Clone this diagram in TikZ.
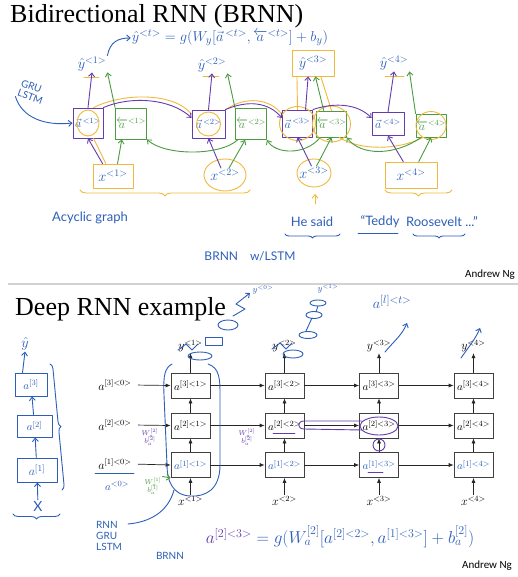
\documentclass[tikz,border=0pt]{standalone}
\usepackage{fontspec}
\usepackage{amsmath}
\setmainfont{Liberation Serif}
\newfontfamily\titlefont{Liberation Serif}
\newfontfamily\handfont{Lato}
\newfontfamily\ngfont{Carlito}
\usetikzlibrary{arrows.meta,decorations.pathreplacing}
\definecolor{hblue}{RGB}{45,95,185}
\definecolor{hpurple}{RGB}{100,60,175}
\definecolor{hgreen}{RGB}{75,155,65}
\definecolor{hyellow}{RGB}{240,185,60}
\begin{document}
\begin{tikzpicture}[x=1pt,y=-1pt,
  title/.style={anchor=base west,inner sep=0,font=\titlefont\fontsize{26}{28}\selectfont},
  ng/.style={anchor=base east,inner sep=0,font=\ngfont\fontsize{11}{12}\selectfont},
  hw/.style={inner sep=1pt,text=hblue,font=\handfont\fontsize{#1}{#1}\selectfont},
  hw/.default=12,
  hm/.style={inner sep=1pt,font=\fontsize{#1}{#1}\selectfont},
  hm/.default=12,
  hl/.style={line width=0.9pt,line cap=round,line join=round},
  harr/.style={hl,-{Straight Barb[length=3.5pt,width=6pt]}},
  abox/.style={draw=hpurple,hl,inner sep=0,text=hblue,font=\fontsize{12}{12}\selectfont},
  bbox/.style={draw=hgreen,hl,inner sep=0,text=hgreen,font=\fontsize{12}{12}\selectfont},
  pbox/.style={draw=black!75,line width=0.7pt,minimum width=39pt,minimum height=25pt,inner sep=0,fill=white,font=\fontsize{11}{12}\selectfont},
  parr/.style={line width=0.7pt,black!85,-{Latex[length=5pt,width=4pt]}},
  plab/.style={inner sep=1pt,font=\fontsize{12}{13}\selectfont},
  brc/.style={hl,decorate,decoration={brace,amplitude=#1}},
  brc/.default=6pt,
]
\useasboundingbox (0,0) rectangle (518,577);
\fill[white] (0,0) rectangle (518,577);

% ================= TOP: Bidirectional RNN =================
\node[title] (t1) at (10,23) {Bidirectional RNN (BRNN)};
\node[ng] (ng1) at (515,277) {Andrew Ng};
\draw[gray!35,line width=2pt] (8,284) -- (518,284);

\node[hm=15,text=hblue] (eq1) at (230,38) {$\hat{y}^{<t>}=g(W_y[\vec{a}^{\,<t>},\overleftarrow{a}^{<t>}]+b_y)$};

\node[hm=14,text=hblue] (y1) at (92,64) {$\hat{y}^{<1>}$};
\node[hm=14,text=hblue] (y2) at (212,65) {$\hat{y}^{<2>}$};
\node[hm=14,text=hblue,draw=hyellow,hl,minimum width=42pt,minimum height=26pt] (y3) at (313,63) {$\hat{y}^{<3>}$};
\node[hm=14,text=hblue] (y4) at (394,63) {$\hat{y}^{<4>}$};
\draw[hyellow,hl] (84,77) -- (99,77) (203,76) -- (219,76) (385,76) -- (404,76);
\draw[harr,hblue] (y1.north east) .. controls (110,42) and (118,38) .. (eq1.west);

\node[hw=10,rotate=-20,align=left] (gru) at (32,92) {GRU\\LSTM};

% forward (purple) and backward (green) units
\node[abox,minimum width=30pt,minimum height=30pt] (A1) at (88,123) {$\vec{a}^{\,<1>}$};
\node[bbox,minimum width=31pt,minimum height=31pt] (B1) at (131,123.5) {$\overleftarrow{a}^{<1>}$};
\node[abox,minimum width=33pt,minimum height=28pt] (A2) at (208.5,124) {$\vec{a}^{\,<2>}$};
\node[bbox,minimum width=31pt,minimum height=31pt] (B2) at (251,124) {$\overleftarrow{a}^{<2>}$};
\node[abox,minimum width=30pt,minimum height=27pt] (A3) at (297.5,123.5) {$\vec{a}^{\,<3>}$};
\node[bbox,minimum width=29pt,minimum height=26pt] (B3) at (331.5,124) {$\overleftarrow{a}^{<3>}$};
\node[abox,minimum width=32pt,minimum height=23pt] (A4) at (388,124) {$\vec{a}^{\,<4>}$};
\node[bbox,minimum width=28pt,minimum height=23pt] (B4) at (431,125.5) {$\overleftarrow{a}^{<4>}$};
\draw[harr,hblue] (gru.south west) .. controls (22,118) and (45,126) .. (A1.west);

% yellow highlights
\draw[hyellow,hl] (A1) ellipse [x radius=11pt,y radius=13pt];
\draw[hyellow,hl] (A2) ellipse [x radius=12pt,y radius=12pt];
\draw[hyellow,hl] (A3) ellipse [x radius=18pt,y radius=17pt];
\draw[hyellow,hl] (B3) ellipse [x radius=19pt,y radius=18pt];
\draw[hyellow,hl] (B4) ellipse [x radius=15pt,y radius=14pt];
\draw[hyellow,hl] (A1.70) .. controls (125,92) and (175,93) .. (A2.150);
\draw[hyellow,hl] (A2.40) .. controls (245,96) and (270,98) .. (A3.150);
\draw[hyellow,hl] (A3.north) -- (y3.220) (B3.north) -- (y3.300);
\draw[hyellow,hl] (B4.235) .. controls (400,150) and (360,151) .. (B3.300);

% inputs
\node[hm=14,text=hblue,draw=hyellow,hl,minimum width=40pt,minimum height=24pt] (TX1) at (113,176) {$x^{<1>}$};
\node[hm=14,text=hblue] (TX2) at (225,175) {$x^{<2>}$};
\draw[hyellow,hl] (TX2) ellipse [x radius=21pt,y radius=16pt];
\node[hm=14,text=hblue] (TX3) at (314,173) {$x^{<3>}$};
\draw[hyellow,hl] (TX3) ellipse [x radius=17pt,y radius=14pt];
\node[hm=14,text=hblue,draw=hyellow,hl,minimum width=52pt,minimum height=26pt] (TX4) at (411,175) {$x^{<4>}$};
\draw[brc,hyellow] (250,190) -- (80,190);
\draw[brc,hyellow] (452,190) -- (385,190);

% input connections
\draw[harr,hpurple] (TX1.130) -- (A1.south);
\draw[hyellow,hl] (TX1.120) -- (A1.290);
\draw[harr,hgreen] (TX1.70) -- (B1.240);
\draw[harr,hpurple] (TX2.120) -- (A2.south);
\draw[harr,hgreen] (TX2.60) -- (B2.250);
\draw[harr,hpurple] (TX3.110) -- (A3.south);
\draw[harr,hgreen] (TX3.70) -- (B3.south);
\draw[harr,hpurple] (TX4.120) -- (A4.south);
\draw[harr,hgreen] (TX4.60) -- (B4.south);

% outputs
\draw[harr,hpurple] (A1.north) -- (y1.south);
\draw[harr,hgreen] (B1.north west) -- (y1.south east);
\draw[harr,hpurple] (A2.north) -- (y2.south);
\draw[harr,hgreen] (B2.north west) -- (y2.south east);
\draw[harr,hpurple] (A3.60) -- (y3.250);
\draw[harr,hgreen] (B3.120) -- (y3.280);
\draw[harr,hpurple] (A4.north) -- (y4.south);
\draw[harr,hgreen] (B4.north west) -- (y4.south east);

% forward recurrence
\draw[harr,hpurple] (A1.north east) .. controls (130,96) and (170,98) .. (A2.160);
\draw[harr,hpurple] (A2.north east) .. controls (248,100) and (268,102) .. (A3.160);
\draw[harr,hpurple] (A3.north east) .. controls (335,102) and (358,104) .. (A4.160);
% backward recurrence
\draw[harr,hgreen] (B2.230) .. controls (220,156) and (165,156) .. (B1.south east);
\draw[harr,hgreen] (B3.230) .. controls (305,156) and (275,154) .. (B2.south east);
\draw[harr,hgreen] (B4.230) .. controls (395,156) and (360,156) .. (B3.south east);

% texts
\node[hw=13] (acy) at (90,218) {Acyclic graph};
\node[hw=13] (he) at (312,222) {He said};
\node[hw=13] (ted) at (380,222) {“Teddy};
\node[hw=13] (roo) at (442,222) {Roosevelt ...”};
\draw[brc=4pt,hblue] (340,234) -- (285,234);
\draw[hblue,hl] (358,233) -- (398,233);
\draw[brc=4pt,hblue] (465,234) -- (413,234);
\draw[harr,hyellow] (315,204) -- (315,194);
\node[hw=12] (brnn) at (250,256) {BRNN\quad w/LSTM};

% ================= BOTTOM: Deep RNN example =================
\node[title] (t2) at (15,315) {Deep RNN example};
\node[ng] (ng2) at (512,568) {Andrew Ng};

\foreach \c/\x in {1/190.5,2/284.5,3/379,4/473.5}{
  \node[pbox] (L3\c) at (\x,385.5) {$a^{[3]<\c>}$};
  \node[pbox] (L2\c) at (\x,425.5) {$a^{[2]<\c>}$};
  \node[pbox,text=hblue] (L1\c) at (\x,465) {$a^{[1]<\c>}$};
  \node[plab] (dy\c) at (\x,346) {$y^{<\c>}$};
  \node[plab] (dx\c) at (\x,501) {$x^{<\c>}$};
  \draw[parr] (dx\c) -- (L1\c);
  \draw[parr] (L1\c) -- (L2\c);
  \draw[parr] (L2\c) -- (L3\c);
  \draw[parr] (L3\c) -- (dy\c);
}
\foreach \c/\n in {1/2,2/3,3/4}{
  \foreach \r in {1,2,3}{
    \draw[parr] (L\r\c) -- (L\r\n);
  }
}
\node[plab] (i3) at (115,385) {$a^{[3]<0>}$};
\node[plab] (i2) at (115,425) {$a^{[2]<0>}$};
\node[plab] (i1) at (115,464) {$a^{[1]<0>}$};
\draw[parr,shorten <=5pt] (i3.east) -- (L31.west);
\draw[parr,shorten <=5pt] (i2.east) -- (L21.west);
\draw[parr,shorten <=5pt] (i1.east) -- (L11.west);
\draw[hblue,hl] (95,473) -- (134,473);
\node[hm=11,text=hblue] (a0) at (117,486) {$a^{<0>}$};

% left stack sketch
\node[draw=hblue,hl,minimum width=32pt,minimum height=23pt,inner sep=0,hm=11,text=hblue] (S3) at (31,384.5) {$a^{[3]}$};
\node[draw=hblue,hl,minimum width=35pt,minimum height=22pt,inner sep=0,hm=11,text=hblue] (S2) at (34.5,426) {$a^{[2]}$};
\node[draw=hblue,hl,minimum width=40pt,minimum height=24pt,inner sep=0,hm=13,text=hblue] (S1) at (37,470) {$a^{[1]}$};
\node[hw=14] (SX) at (38,506) {X};
\node[hm=14,text=hblue] (SY) at (25,344) {$\hat{y}$};
\draw[harr,hblue] (SX) -- (S1);
\draw[harr,hblue] (S1) -- (S2);
\draw[harr,hblue] (S2) -- (S3);
\draw[harr,hblue] (S3.north west) ++(8,0) -- (SY.south);
\draw[brc=5pt,hblue] (60,514) -- (13,514);
\draw[brc=5pt,hblue] (50,364) -- (62,490);

% loop around first column
\draw[hblue,hl] (208,364) .. controls (220,368) and (220,380) .. (220,395) -- (220,465)
  .. controls (220,490) and (205,497) .. (190,496) .. controls (172,495) and (167,480) .. (167,465)
  -- (164,395) .. controls (163,375) and (165,368) .. (172,364);
\draw[hblue,hl] (128,524) .. controls (150,522) and (168,512) .. (174,490);

% scribbles above y's
\draw[hblue,hl] (200,356) ellipse [x radius=12pt,y radius=4pt];
\draw[hblue,hl] (178,350) -- (186,344) -- (192,350) -- (198,344);
\draw[hblue,hl] (205,337) rectangle (222,345);
\draw[hblue,hl] (228,325) ellipse [x radius=10pt,y radius=5pt];
\draw[harr,hblue] (233,316) -- (245,309) -- (236,304) -- (250,293);
\node[hm=9,text=hblue] (yz) at (263,290) {$y^{<0>}$};
\draw[hblue,hl] (293,354) ellipse [x radius=10pt,y radius=4pt];
\draw[hblue,hl] (272,349) -- (280,343) -- (286,349) -- (292,343);
\draw[hblue,hl] (308,335) ellipse [x radius=9pt,y radius=3.5pt];
\draw[hblue,hl] (314,315) ellipse [x radius=8pt,y radius=3.5pt];
\draw[hblue,hl] (318,303) ellipse [x radius=8pt,y radius=3pt];
\draw[hblue,hl] (306,331) -- (312,318) (316,312) -- (318,306);
\node[hm=9,text=hblue] (yo) at (328,289) {$y^{<1>}$};
\draw[harr,hblue] (385,352) .. controls (395,340) and (402,335) .. (407,323);
\draw[harr,hblue] (461,358) .. controls (470,345) and (476,338) .. (480,328);
\node[hm=15,text=hblue] (alt) at (392,302) {$a^{[l]<t>}$};

% parameter annotations
\node[hm=7,text=hpurple,align=center] (w2a) at (150,437) {$W_a^{[2]}$\\[-2pt]$b_a^{[2]}$};
\node[hm=7,text=hpurple,align=center] (w2b) at (247,437) {$W_a^{[2]}$\\[-2pt]$b_a^{[2]}$};
\node[hm=7,text=hgreen,align=center] (w1) at (153,486) {$W_a^{[1]}$\\[-2pt]$b_a^{[1]}$};
\draw[harr,hgreen] (w1.north east) -- (L11.south west);

% purple highlights
\draw[hpurple,hl] (379,426) ellipse [x radius=19pt,y radius=9pt];
\draw[hpurple,hl] (362,421) -- (304,421) .. controls (297,421) and (297,429) .. (304,429) -- (362,430);
\draw[hpurple,hl] (379,445) circle [radius=6pt];
\draw[hpurple,hl] (273,433) -- (295,433);
\draw[hpurple,hl] (368,472) -- (383,472);

% bottom notes
\node[hw=10,align=left,anchor=north west] (rnn) at (95,520) {RNN\\[1pt]GRU\\[1pt]LSTM};
\node[hw=10] (brnn2) at (170,556) {BRNN};
\node[hm=17,text=hblue] (eq2) at (340,537) {$\textcolor{hpurple}{a^{[2]<3>}}=g(W_a^{[2]}[a^{[2]<2>},a^{[1]<3>}]+b_a^{[2]})$};
\end{tikzpicture}
\end{document}
